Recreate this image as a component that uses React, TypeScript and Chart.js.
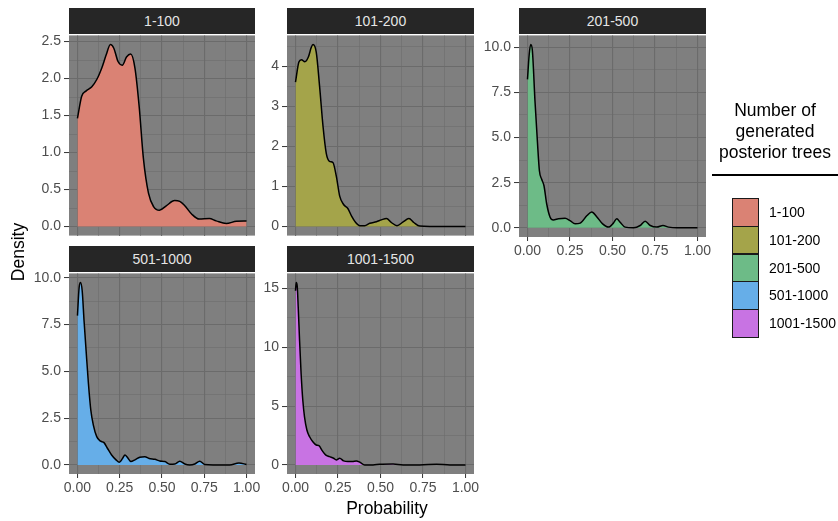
import React, { useEffect, useRef } from "react";
import { Chart, registerables } from "chart.js";

Chart.register(...registerables);

const FONT = "'Liberation Sans', Arial, Helvetica, sans-serif";

// ---------- data ----------
const groups = ["1-100", "101-200", "201-500", "501-1000", "1001-1500"];
const groupColors = ["#DA8274", "#A4A44A", "#6DBB87", "#66AEE8", "#C873E3"];

const xTicks = [0, 0.25, 0.5, 0.75, 1];
const xMinor = [0.125, 0.375, 0.625, 0.875];

const p1X = [0, 0.025, 0.05, 0.085, 0.115, 0.145, 0.17, 0.195, 0.215, 0.24, 0.265, 0.29, 0.315, 0.34, 0.365, 0.39, 0.42, 0.45, 0.485, 0.525, 0.575, 0.605, 0.635, 0.675, 0.72, 0.78, 0.82, 0.88, 0.94, 1.0];
const p1Y = [1.46, 1.76, 1.83, 1.89, 1.99, 2.15, 2.32, 2.46, 2.41, 2.23, 2.18, 2.29, 2.33, 2.14, 1.62, 0.92, 0.45, 0.27, 0.22, 0.28, 0.35, 0.34, 0.28, 0.17, 0.1, 0.107, 0.076, 0.04, 0.072, 0.076];

const p2X = [0, 0.02, 0.035, 0.055, 0.075, 0.093, 0.103, 0.122, 0.142, 0.162, 0.181, 0.2, 0.22, 0.24, 0.26, 0.283, 0.308, 0.33, 0.354, 0.378, 0.407, 0.437, 0.476, 0.505, 0.535, 0.564, 0.597, 0.633, 0.667, 0.696, 0.731, 0.79, 0.87, 1.0];
const p2Y = [3.61, 4.11, 4.17, 4.12, 4.23, 4.48, 4.55, 4.36, 3.49, 2.5, 1.83, 1.63, 1.6, 1.26, 0.76, 0.55, 0.45, 0.26, 0.1, 0.02, 0.02, 0.08, 0.12, 0.165, 0.2, 0.1, 0.02, 0.115, 0.2, 0.1, 0.01, 0, 0, 0];

const p3X = [0, 0.01, 0.019, 0.029, 0.044, 0.058, 0.07, 0.083, 0.097, 0.113, 0.133, 0.152, 0.182, 0.221, 0.25, 0.28, 0.31, 0.35, 0.378, 0.407, 0.442, 0.476, 0.505, 0.525, 0.545, 0.574, 0.624, 0.663, 0.692, 0.722, 0.761, 0.797, 0.83, 0.88, 1.0];
const p3Y = [8.22, 9.6, 10.15, 9.78, 7.02, 4.82, 3.16, 2.7, 2.33, 1.32, 0.59, 0.44, 0.5, 0.53, 0.4, 0.22, 0.26, 0.68, 0.88, 0.62, 0.22, 0.04, 0.26, 0.5, 0.31, 0.04, 0, 0.13, 0.37, 0.13, 0.04, 0.13, 0.04, 0, 0];

const p4X = [0, 0.01, 0.018, 0.028, 0.039, 0.051, 0.065, 0.079, 0.094, 0.114, 0.134, 0.157, 0.177, 0.202, 0.228, 0.248, 0.267, 0.281, 0.295, 0.316, 0.34, 0.369, 0.399, 0.424, 0.458, 0.487, 0.517, 0.546, 0.576, 0.605, 0.635, 0.664, 0.694, 0.723, 0.752, 0.802, 0.9, 0.955, 1.0];
const p4Y = [7.98, 9.49, 9.75, 9.31, 7.71, 6.12, 4.34, 2.93, 2.13, 1.51, 1.28, 1.19, 0.89, 0.53, 0.27, 0.14, 0.35, 0.53, 0.41, 0.18, 0.27, 0.41, 0.44, 0.34, 0.3, 0.21, 0.18, 0.04, 0.05, 0.2, 0.05, 0, 0.05, 0.2, 0.02, 0, 0, 0.1, 0.02];

const p5X = [0, 0.004, 0.01, 0.016, 0.024, 0.033, 0.043, 0.053, 0.067, 0.083, 0.102, 0.122, 0.138, 0.157, 0.177, 0.2, 0.224, 0.24, 0.26, 0.283, 0.308, 0.334, 0.358, 0.381, 0.407, 0.456, 0.495, 0.574, 0.633, 0.731, 0.83, 0.908, 1.0];
const p5Y = [14.8, 15.5, 15.2, 13.4, 10.56, 7.75, 5.49, 4.08, 2.96, 2.39, 1.97, 1.69, 1.63, 1.21, 0.85, 0.7, 0.56, 0.42, 0.56, 0.34, 0.28, 0.28, 0.34, 0.2, 0, 0, 0.06, 0.08, 0, 0, 0.06, 0, 0];

const p1YTicks = [0, 0.5, 1, 1.5, 2, 2.5];
const p2YTicks = [0, 1, 2, 3, 4];
const p3YTicks = [0, 2.5, 5, 7.5, 10];
const p4YTicks = [0, 2.5, 5, 7.5, 10];
const p5YTicks = [0, 5, 10, 15];

// ---------- layout constants ----------
const YW = 60;
const PT = 10;
const PR = 22;
const PB = 10;
const XH = 30;

const bgPlugin = {
  id: "panelBg",
  beforeDraw(chart: any) {
    const { ctx, chartArea } = chart;
    if (!chartArea) return;
    ctx.save();
    ctx.fillStyle = "#7F7F7F";
    ctx.fillRect(chartArea.left, chartArea.top, chartArea.right - chartArea.left, chartArea.bottom - chartArea.top);
    ctx.restore();
  },
};

type PanelProps = {
  left: number; top: number; w: number; h: number;
  xs: number[]; ys: number[]; color: string;
  yTicks: number[]; yDec: number; showX: boolean; label: string;
};

function Panel({ left, top, w, h, xs, ys, color, yTicks, yDec, showX, label }: PanelProps) {
  const ref = useRef<HTMLCanvasElement>(null);
  const cw = YW + w + PR;
  const ch = PT + h + (showX ? XH : 0) + PB;

  useEffect(() => {
    const ymaxData = Math.max(...ys);
    const ymin = -0.05 * ymaxData;
    const ymax = 1.05 * ymaxData;
    const step = yTicks[1] - yTicks[0];
    const yMinor = yTicks.map((v) => v + step / 2).filter((v) => v <= ymax);
    const yAll = [...yTicks, ...yMinor].sort((a, b) => a - b);
    const xAll = [...xTicks, ...xMinor].sort((a, b) => a - b);
    const isMajX = (v: number) => xTicks.includes(v);
    const isMajY = (v: number) => yTicks.includes(v);

    const chart = new Chart(ref.current as HTMLCanvasElement, {
      type: "line",
      data: {
        datasets: [
          {
            data: xs.map((x, i) => ({ x, y: ys[i] })),
            borderColor: "#000000",
            borderWidth: 1.5,
            backgroundColor: color,
            fill: "origin",
            pointRadius: 0,
            cubicInterpolationMode: "monotone",
          } as any,
        ],
      },
      options: {
        responsive: false,
        animation: false,
        maintainAspectRatio: false,
        layout: { padding: { top: PT, right: PR, bottom: PB, left: 0 } },
        plugins: { legend: { display: false }, tooltip: { enabled: false } },
        scales: {
          x: {
            type: "linear",
            min: -0.05,
            max: 1.05,
            afterBuildTicks: (s: any) => {
              s.ticks = xAll.map((v) => ({ value: v }));
            },
            afterFit: (s: any) => {
              s.height = showX ? XH : 0;
            },
            ticks: {
              display: showX,
              autoSkip: false,
              maxRotation: 0,
              padding: 2,
              color: "#4D4D4D",
              font: { size: 14, family: FONT },
              callback: (v: any) => (isMajX(v) ? Number(v).toFixed(2) : ""),
            },
            grid: {
              color: "#6B6B6B",
              lineWidth: (c: any) => (c.tick && isMajX(c.tick.value) ? 1.1 : 0.55),
              drawTicks: showX,
              tickLength: 4,
              tickColor: (c: any) => (c.tick && isMajX(c.tick.value) ? "#333333" : "rgba(0,0,0,0)"),
              tickWidth: 1,
            },
            border: { display: false },
          },
          y: {
            type: "linear",
            min: ymin,
            max: ymax,
            afterBuildTicks: (s: any) => {
              s.ticks = yAll.map((v) => ({ value: v }));
            },
            afterFit: (s: any) => {
              s.width = YW;
            },
            ticks: {
              autoSkip: false,
              padding: 3,
              color: "#4D4D4D",
              font: { size: 14, family: FONT },
              callback: (v: any) => (isMajY(v) ? Number(v).toFixed(yDec) : ""),
            },
            grid: {
              color: "#6B6B6B",
              lineWidth: (c: any) => (c.tick && isMajY(c.tick.value) ? 1.1 : 0.55),
              tickLength: 5,
              tickColor: (c: any) => (c.tick && isMajY(c.tick.value) ? "#333333" : "rgba(0,0,0,0)"),
              tickWidth: 1,
            },
            border: { display: false },
          },
        },
      } as any,
      plugins: [bgPlugin],
    });
    return () => chart.destroy();
  }, []);

  return (
    <>
      <div
        style={{
          position: "absolute",
          left,
          top: top - 26,
          width: w,
          height: 26,
          background: "#262626",
          color: "#E5E5E5",
          fontFamily: FONT,
          fontSize: 14,
          lineHeight: "26px",
          textAlign: "center",
        }}
      >
        {label}
      </div>
      <canvas
        ref={ref}
        width={cw}
        height={ch}
        style={{ position: "absolute", left: left - YW, top: top - PT, width: cw, height: ch }}
      />
    </>
  );
}

export default function App() {
  return (
    <div
      style={{
        position: "absolute",
        left: 0,
        top: 0,
        width: 838,
        height: 521,
        background: "#ffffff",
        overflow: "hidden",
        fontFamily: FONT,
      }}
    >
      <Panel left={69} top={34} w={186} h={203} xs={p1X} ys={p1Y} color={groupColors[0]} yTicks={p1YTicks} yDec={1} showX={false} label={groups[0]} />
      <Panel left={287} top={34} w={187} h={203} xs={p2X} ys={p2Y} color={groupColors[1]} yTicks={p2YTicks} yDec={0} showX={false} label={groups[1]} />
      <Panel left={519} top={34} w={187} h={203} xs={p3X} ys={p3Y} color={groupColors[2]} yTicks={p3YTicks} yDec={1} showX={true} label={groups[2]} />
      <Panel left={69} top={272} w={186} h={202} xs={p4X} ys={p4Y} color={groupColors[3]} yTicks={p4YTicks} yDec={1} showX={true} label={groups[3]} />
      <Panel left={287} top={272} w={187} h={202} xs={p5X} ys={p5Y} color={groupColors[4]} yTicks={p5YTicks} yDec={0} showX={true} label={groups[4]} />

      <div
        style={{
          position: "absolute",
          left: 18 - 60,
          top: 252 - 11,
          width: 120,
          height: 22,
          lineHeight: "22px",
          textAlign: "center",
          fontSize: 17.5,
          color: "#000",
          transform: "rotate(-90deg)",
        }}
      >
        Density
      </div>
      <div
        style={{
          position: "absolute",
          left: 387 - 80,
          top: 508 - 11,
          width: 160,
          height: 22,
          lineHeight: "22px",
          textAlign: "center",
          fontSize: 17.5,
          color: "#000",
        }}
      >
        Probability
      </div>

      <div
        style={{
          position: "absolute",
          left: 712,
          top: 100,
          width: 126,
          textAlign: "center",
          fontSize: 17.5,
          lineHeight: "21px",
          color: "#000",
        }}
      >
        Number of
        <br />
        generated
        <br />
        posterior trees
      </div>
      <div style={{ position: "absolute", left: 712, top: 174, width: 126, height: 2, background: "#000" }} />
      {groups.map((g, i) => (
        <React.Fragment key={g}>
          <div
            style={{
              position: "absolute",
              left: 732,
              top: 198 + i * 27.75,
              width: 27,
              height: 28.5,
              boxSizing: "border-box",
              border: "1.5px solid #1a1a1a",
              background: groupColors[i],
            }}
          />
          <div
            style={{
              position: "absolute",
              left: 769,
              top: 198 + i * 27.75,
              height: 28,
              lineHeight: "28px",
              fontSize: 14,
              color: "#000",
              whiteSpace: "nowrap",
            }}
          >
            {g}
          </div>
        </React.Fragment>
      ))}
    </div>
  );
}
